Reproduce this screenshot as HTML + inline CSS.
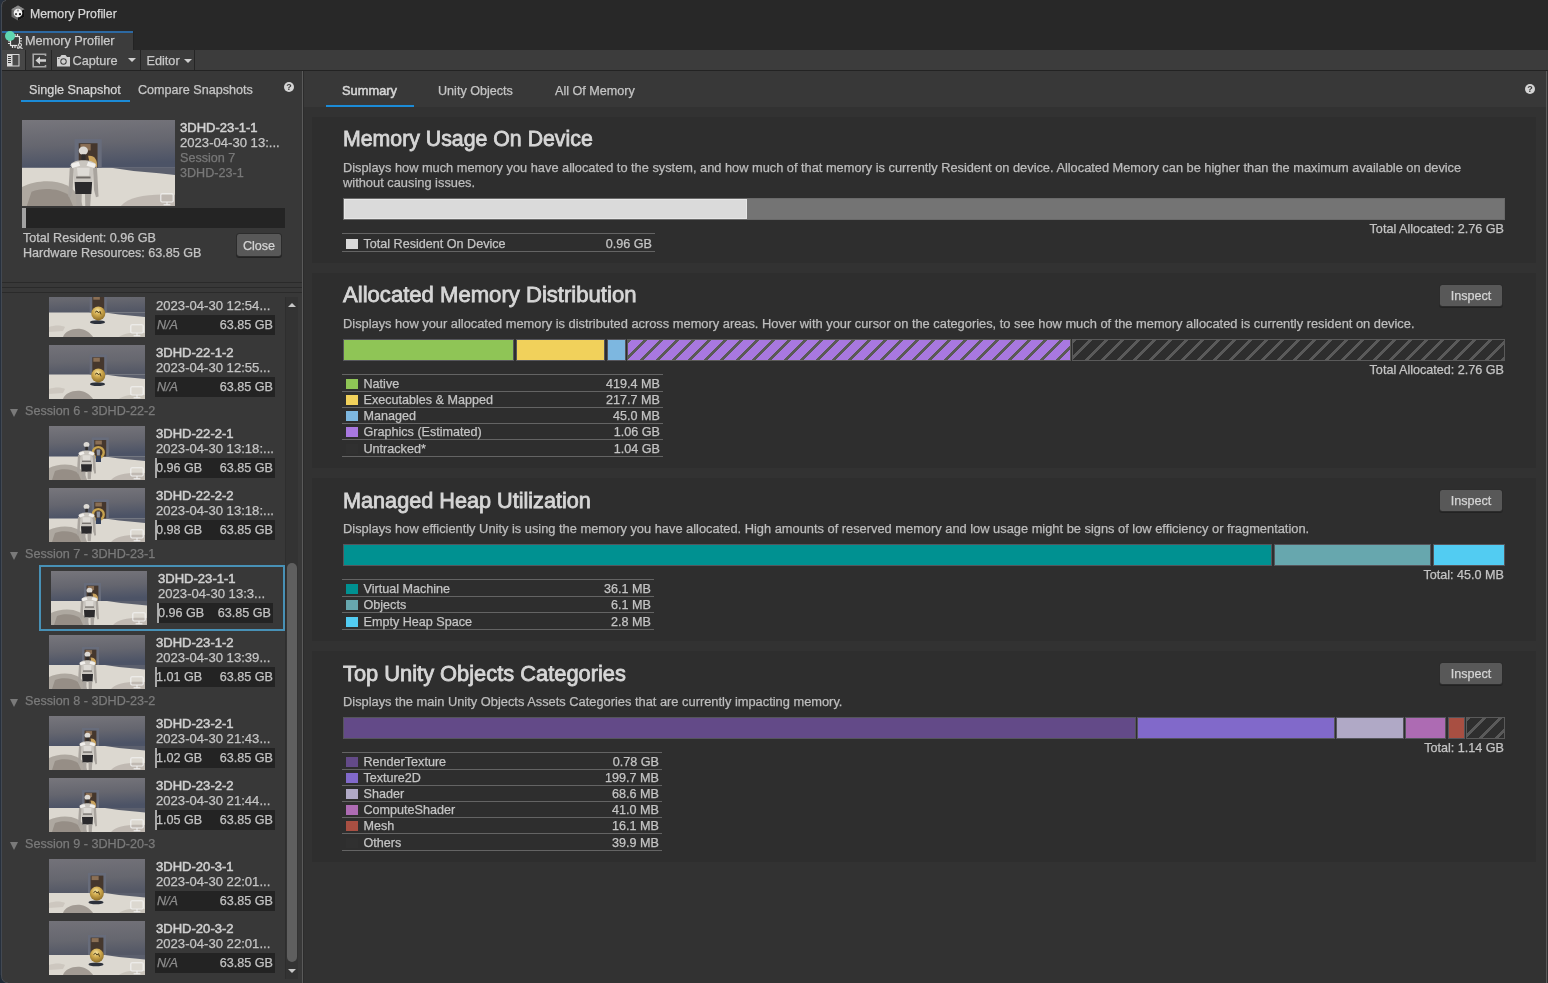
<!DOCTYPE html>
<html><head><meta charset="utf-8"><title>Memory Profiler</title><style>
*{margin:0;padding:0;box-sizing:content-box}
html,body{width:1548px;height:983px;overflow:hidden;background:#282828}
body{position:relative;font-family:"Liberation Sans",Arial,sans-serif}
.r{position:absolute}
.t{position:absolute;white-space:nowrap;filter:grayscale(1);-webkit-text-stroke-width:0.25px}
.tri{position:absolute;width:0;height:0;border-style:solid}
.help{position:absolute;filter:grayscale(1);width:10px;height:10px;border-radius:50%;background:#d4d4d4;color:#383838;font-size:9px;font-weight:700;line-height:10px;text-align:center}
.btn{position:absolute;filter:grayscale(1);background:#585858;border-radius:2.5px;color:#d4d4d4;font-size:12.6px;text-align:center;box-shadow:0 0 0 1px #2c2c2c,0 1px 0 1px #222;-webkit-text-stroke:0.25px #d4d4d4;box-sizing:border-box;padding-top:1px}
</style></head><body>
<div class="r" style="left:0;top:0;width:1548px;height:983px;background:#282828"></div>
<div class="r" style="left:0px;top:0px;width:1px;height:983px;background:#27303d;"></div>
<div class="r" style="left:1px;top:0px;width:1px;height:983px;background:#434952;"></div>
<svg class="r" style="left:11px;top:5px" width="14" height="16" viewBox="0 0 14 16">
<path d="M7 0.5 L13.5 4.2 L13.5 11.8 L7 15.5 L0.5 11.8 L0.5 4.2 Z" fill="#6a6a6a"/>
<path d="M7 0.5 L13.5 4.2 L7 7.8 L0.5 4.2 Z" fill="#8a8a8a"/>
<path d="M13.5 4.2 L13.5 11.8 L7 15.5 L7 7.8 Z" fill="#111"/>
<circle cx="7" cy="8" r="4.3" fill="#f2f2f2"/>
<circle cx="7" cy="5.6" r="1.1" fill="#9a9a9a"/><circle cx="5" cy="9.2" r="1.1" fill="#444"/><circle cx="9" cy="9.2" r="1.1" fill="#111"/>
</svg>
<div class="t" style="top:7.24px;font-size:12.3px;line-height:15px;color:#d6d6d6;left:30.00px;">Memory Profiler</div>
<div class="r" style="left:2px;top:30px;width:1546px;height:20px;background:#282828;"></div>
<div class="r" style="left:2px;top:31px;width:131px;height:2px;background:#2d69a2;"></div>
<div class="r" style="left:2px;top:33px;width:131px;height:17px;background:#3c3c3c;"></div>
<div class="r" style="left:133px;top:31px;width:1px;height:19px;background:#232323;"></div>
<svg class="r" style="left:6px;top:32px" width="18" height="18" viewBox="0 0 18 18">
<g fill="none" stroke="#e2e2e2" stroke-width="1.2">
<rect x="4.5" y="4.5" width="9" height="9"/>
<path d="M6.5 2 V4.5 M9 2 V4.5 M11.5 2 V4.5 M6.5 13.5 V16 M9 13.5 V16 M11.5 13.5 V16 M2 6.5 H4.5 M2 9 H4.5 M2 11.5 H4.5 M13.5 6.5 H16 M13.5 9 H16"/>
</g>
<circle cx="14" cy="13.8" r="2.6" fill="#3c3c3c"/>
<circle cx="14" cy="13" r="1.5" fill="none" stroke="#e2e2e2" stroke-width="1.1"/>
<path d="M11.6 17 C12 15.2 16 15.2 16.4 17" fill="none" stroke="#e2e2e2" stroke-width="1.1"/>
</svg>
<div class="r" style="left:5px;top:31px;width:10px;height:10px;border-radius:50%;background:#5fd6b1"></div>
<div class="t" style="top:32.90px;font-size:12.7px;line-height:16px;color:#c9c9c9;left:25.00px;">Memory Profiler</div>
<div class="r" style="left:2px;top:50px;width:1546px;height:20px;background:#3c3c3c;"></div>
<div class="r" style="left:2px;top:70px;width:1546px;height:1px;background:#232323;"></div>
<div class="r" style="left:2px;top:50px;width:23px;height:20px;background:#474747;"></div>
<div class="r" style="left:25px;top:50px;width:1px;height:20px;background:#252525;"></div>
<div class="r" style="left:51px;top:50px;width:1px;height:20px;background:#252525;"></div>
<div class="r" style="left:140px;top:50px;width:1px;height:20px;background:#252525;"></div>
<div class="r" style="left:194px;top:50px;width:1px;height:20px;background:#252525;"></div>
<svg class="r" style="left:7px;top:54px" width="13" height="13" viewBox="0 0 13 13">
<rect x="0" y="0" width="12.5" height="12.5" fill="#d8d8d8"/>
<rect x="5.5" y="1" width="6" height="10.5" fill="#4a4a4a"/>
<rect x="1" y="1" width="3.5" height="10.5" fill="#d8d8d8"/>
<g fill="#3c3c3c"><rect x="1" y="2" width="3" height="1"/><rect x="1" y="4" width="3" height="1"/><rect x="1" y="6" width="3" height="1"/><rect x="1" y="8" width="3" height="1"/></g>
</svg>
<svg class="r" style="left:32px;top:53px" width="15" height="15" viewBox="0 0 15 15">
<path d="M13.5 3 V1.2 H1.2 V13.8 H13.5 V12" fill="none" stroke="#a8a8a8" stroke-width="1.6"/>
<path d="M3.5 7.5 L8 3.5 V6.2 H14 V8.8 H8 V11.5 Z" fill="#d0d0d0"/>
</svg>
<svg class="r" style="left:55.5px;top:53.5px" width="15" height="13" viewBox="0 0 15 13">
<path d="M1 3 H4 L5.5 1 H9.5 L11 3 H14 V12.5 H1 Z" fill="#d0d0d0"/>
<circle cx="7.5" cy="7.5" r="3.2" fill="#3c3c3c"/><circle cx="7.5" cy="7.5" r="2.2" fill="#cfcfcf"/>
<circle cx="2.8" cy="4.5" r="0.6" fill="#3c3c3c"/>
</svg>
<div class="t" style="top:52.60px;font-size:12.7px;line-height:16px;color:#c8c8c8;left:72.50px;">Capture</div>
<div class="tri" style="left:128px;top:58px;border-width:4.5px 4px 0 4px;border-color:#d0d0d0 transparent transparent transparent"></div>
<div class="t" style="top:52.60px;font-size:12.7px;line-height:16px;color:#c8c8c8;left:146.50px;">Editor</div>
<div class="tri" style="left:183.6px;top:58.5px;border-width:4.5px 4px 0 4px;border-color:#d0d0d0 transparent transparent transparent"></div>
<div class="r" style="left:2px;top:71px;width:300px;height:912px;background:#383838;"></div>
<div class="t" style="top:81.63px;font-size:12.6px;line-height:16px;color:#d4d4d4;left:29.00px;">Single Snapshot</div>
<div class="t" style="top:81.63px;font-size:12.6px;line-height:16px;color:#c6c6c6;left:138.00px;">Compare Snapshots</div>
<div class="r" style="left:21px;top:100px;width:109px;height:2px;background:#1b8bd7;"></div>
<div class="help" style="left:284px;top:82px">?</div>
<svg class="r" style="left:22px;top:120px" width="153" height="86" viewBox="0 0 96 54" preserveAspectRatio="none"><linearGradient id="ta1" x1="0" y1="0" x2="0.15" y2="1">
<stop offset="0" stop-color="#77767c"/><stop offset="0.55" stop-color="#65666f"/><stop offset="1" stop-color="#4c5366"/></linearGradient>
<linearGradient id="tb1" x1="0" y1="0" x2="0.1" y2="1">
<stop offset="0" stop-color="#737279"/><stop offset="0.6" stop-color="#66676f"/><stop offset="1" stop-color="#545866"/></linearGradient>
<radialGradient id="tg1" cx="0.45" cy="0.3" r="0.7">
<stop offset="0" stop-color="#f5e3a0"/><stop offset="0.45" stop-color="#d0aa4e"/><stop offset="1" stop-color="#8c6c26"/></radialGradient>
<rect width="96" height="54" fill="#dcd8d0"/>
<path d="M0 42 C8 38 20 37 28 41 C34 44 37 50 38 54 L0 54 Z" fill="#a39c93" opacity="0.8"/>
<path d="M6 45 C13 42 24 43 29 47 L32 54 L3 54 Z" fill="#8d867e" opacity="0.75"/>
<path d="M62 54 C67 48 80 46 96 47 L96 54 Z" fill="#b3ada5" opacity="0.7"/>
<rect width="96" height="30" fill="url(#ta1)"/>
<path d="M56 30 L96 30 L96 34.5 L86 33.5 L70 32 Z" fill="#4c5262" opacity="0.9"/>
<rect x="33" y="12" width="17" height="18" fill="#676c7b"/>
<rect x="35.6" y="14.6" width="11.8" height="15.4" fill="#45372d"/>
<rect x="36.6" y="15.1" width="6.490000000000001" height="4" fill="#8a6f55"/>
<path d="M41.5 22.5 C45.5 22 47.5 25 47 29.5 L43 30 Z" fill="#c9a35e"/><g transform="translate(0.0 0)">
<ellipse cx="38.5" cy="19.3" rx="2.9" ry="2.6" fill="#dcd9d4"/>
<rect x="37.3" y="21.5" width="2.6" height="4" fill="#2e2c2c"/>
<path d="M30.3 28.5 C31.5 26 35 25.3 38.5 25.3 C42 25.3 45.5 26 46.7 28.5 L44.8 31 L44.2 39 L32.8 39 L32.2 31 Z" fill="#c9c5bf"/>
<path d="M30.8 27.5 L35.5 26.2 L36.5 28.8 L31.5 30.2 Z M41.5 26.2 L46.2 27.5 L45.5 30.2 L40.5 28.8 Z" fill="#f1efec"/>
<path d="M34.5 30 L42.5 30 L42 35 L35 35 Z" fill="#dedbd6"/>
<path d="M33 39 L44 39 L43.5 46.5 L33.5 46.5 Z" fill="#2b2a2c"/>
<path d="M33.8 46.5 L37.5 46.5 L37.3 54 L34.2 54 Z M39.5 46.5 L43.3 46.5 L42.8 54 L39.7 54 Z" fill="#aaa59f"/>
<path d="M30 29.5 L32.4 30.5 L31.8 44 L30.6 48.5 L29 48 L29.4 40 Z" fill="#a9a49e"/>
<path d="M47 29.5 L44.6 30.5 L45.2 44 L46.4 48.5 L48 48 L47.6 40 Z" fill="#a9a49e"/>
<path d="M34 35.5 L43 35.5 L43 36.7 L34 36.7 Z" fill="#6f6a66"/>
</g></svg>
<svg class="r" style="left:160px;top:192.5px" width="14" height="13" viewBox="0 0 14 13"><g fill="none" stroke="#f2f2f2" stroke-width="1.1" opacity="0.95"><rect x="0.8" y="0.8" width="12.4" height="8.2" rx="1.2"/><path d="M7 9 V11.6 M3.6 11.8 H10.4"/></g></svg>
<div class="t" style="top:120.28px;font-size:13.05px;line-height:16px;color:#d2d2d2;left:180.00px;-webkit-text-stroke:0.5px #d2d2d2;">3DHD-23-1-1</div>
<div class="t" style="top:135.06px;font-size:13.1px;line-height:16px;color:#c6c6c6;left:180.00px;">2023-04-30 13:...</div>
<div class="t" style="top:149.63px;font-size:12.6px;line-height:16px;color:#787878;left:180.00px;">Session 7</div>
<div class="t" style="top:164.63px;font-size:12.6px;line-height:16px;color:#787878;left:180.00px;">3DHD-23-1</div>
<div class="r" style="left:22px;top:208px;width:263px;height:20px;background:#242424;"></div>
<div class="r" style="left:22px;top:208px;width:4px;height:20px;background:#a2a2a2;"></div>
<div class="t" style="top:229.63px;font-size:12.6px;line-height:16px;color:#c4c4c4;left:23.00px;">Total Resident: 0.96 GB</div>
<div class="t" style="top:244.63px;font-size:12.6px;line-height:16px;color:#c4c4c4;left:23.00px;">Hardware Resources: 63.85 GB</div>
<div class="btn" style="left:237px;top:234px;width:44px;height:22px;line-height:22px">Close</div>
<div class="r" style="left:2px;top:282px;width:300px;height:1px;background:#2a2a2a;"></div>
<div class="r" style="left:2px;top:287px;width:300px;height:1px;background:#2a2a2a;"></div>
<div class="r" style="left:2px;top:292px;width:300px;height:1px;background:#2a2a2a;"></div>
<div class="r" style="left:2px;top:297px;width:283px;height:686px;overflow:hidden">
<svg class="r" style="left:47px;top:-14px" width="96" height="54" viewBox="0 0 96 54" preserveAspectRatio="none"><linearGradient id="ta2" x1="0" y1="0" x2="0.15" y2="1">
<stop offset="0" stop-color="#77767c"/><stop offset="0.55" stop-color="#65666f"/><stop offset="1" stop-color="#4c5366"/></linearGradient>
<linearGradient id="tb2" x1="0" y1="0" x2="0.1" y2="1">
<stop offset="0" stop-color="#737279"/><stop offset="0.6" stop-color="#66676f"/><stop offset="1" stop-color="#545866"/></linearGradient>
<radialGradient id="tg2" cx="0.45" cy="0.3" r="0.7">
<stop offset="0" stop-color="#f5e3a0"/><stop offset="0.45" stop-color="#d0aa4e"/><stop offset="1" stop-color="#8c6c26"/></radialGradient>
<rect width="96" height="54" fill="#dcd8d0"/>
<path d="M14 54 C16 48 24 45 32 46 C38 47 42 51 44 54 Z" fill="#938c84" opacity="0.8"/>
<path d="M0 44 C6 42 12 42 16 44 L14 48 L0 49 Z" fill="#c3bdb4" opacity="0.6"/>
<path d="M70 54 C74 50 84 49 96 50 L96 54 Z" fill="#bdb7ae" opacity="0.6"/>
<rect width="96" height="29.5" fill="url(#tb2)"/>
<path d="M56 29.5 L96 29.5 L96 34.0 L86 33.0 L70 31.5 Z" fill="#4c5262" opacity="0.9"/>
<rect x="40.7" y="9.6" width="17.099999999999994" height="19.9" fill="#676c7b"/>
<rect x="43.300000000000004" y="12.2" width="11.899999999999995" height="17.299999999999997" fill="#45372d"/>
<rect x="44.300000000000004" y="12.7" width="6.544999999999998" height="4" fill="#8a6f55"/>
<ellipse cx="48.5" cy="39.199999999999996" rx="7.5" ry="1.9" fill="#2c313b"/>
<circle cx="49.3" cy="30.4" r="7" fill="url(#tg2)"/>
<path d="M46.0 29.4 l2 -1.5 l1.5 2 l1.5 -1.5 l1 3" stroke="#3a2a10" stroke-width="0.9" fill="none"/></svg>
<svg class="r" style="left:128px;top:26.5px" width="14" height="13" viewBox="0 0 14 13"><g fill="none" stroke="#f2f2f2" stroke-width="1.1" opacity="0.95"><rect x="0.8" y="0.8" width="12.4" height="8.2" rx="1.2"/><path d="M7 9 V11.6 M3.6 11.8 H10.4"/></g></svg>
<div class="t" style="top:-13.72px;font-size:13.05px;line-height:16px;color:#d0d0d0;left:154.00px;-webkit-text-stroke:0.5px #d0d0d0;">3DHD-22-1-1</div>
<div class="t" style="top:1.06px;font-size:13.1px;line-height:16px;color:#c4c4c4;left:154.00px;">2023-04-30 12:54...</div>
<div class="r" style="left:153px;top:18px;width:120px;height:20px;background:#232323;"></div>
<div class="t" style="top:19.63px;font-size:12.6px;line-height:16px;color:#8c8c8c;left:155.00px;font-style:italic;">N/A</div>
<div class="t" style="top:19.63px;font-size:12.6px;line-height:16px;color:#c2c2c2;left:151px;width:120px;text-align:right;">63.85 GB</div>
<svg class="r" style="left:47px;top:48px" width="96" height="54" viewBox="0 0 96 54" preserveAspectRatio="none"><linearGradient id="ta3" x1="0" y1="0" x2="0.15" y2="1">
<stop offset="0" stop-color="#77767c"/><stop offset="0.55" stop-color="#65666f"/><stop offset="1" stop-color="#4c5366"/></linearGradient>
<linearGradient id="tb3" x1="0" y1="0" x2="0.1" y2="1">
<stop offset="0" stop-color="#737279"/><stop offset="0.6" stop-color="#66676f"/><stop offset="1" stop-color="#545866"/></linearGradient>
<radialGradient id="tg3" cx="0.45" cy="0.3" r="0.7">
<stop offset="0" stop-color="#f5e3a0"/><stop offset="0.45" stop-color="#d0aa4e"/><stop offset="1" stop-color="#8c6c26"/></radialGradient>
<rect width="96" height="54" fill="#dcd8d0"/>
<path d="M14 54 C16 48 24 45 32 46 C38 47 42 51 44 54 Z" fill="#938c84" opacity="0.8"/>
<path d="M0 44 C6 42 12 42 16 44 L14 48 L0 49 Z" fill="#c3bdb4" opacity="0.6"/>
<path d="M70 54 C74 50 84 49 96 50 L96 54 Z" fill="#bdb7ae" opacity="0.6"/>
<rect width="96" height="29.5" fill="url(#tb3)"/>
<path d="M56 29.5 L96 29.5 L96 34.0 L86 33.0 L70 31.5 Z" fill="#4c5262" opacity="0.9"/>
<rect x="40.7" y="9.6" width="17.099999999999994" height="19.9" fill="#676c7b"/>
<rect x="43.300000000000004" y="12.2" width="11.899999999999995" height="17.299999999999997" fill="#45372d"/>
<rect x="44.300000000000004" y="12.7" width="6.544999999999998" height="4" fill="#8a6f55"/>
<ellipse cx="48.5" cy="39.199999999999996" rx="7.5" ry="1.9" fill="#2c313b"/>
<circle cx="49.3" cy="30.4" r="7" fill="url(#tg3)"/>
<path d="M46.0 29.4 l2 -1.5 l1.5 2 l1.5 -1.5 l1 3" stroke="#3a2a10" stroke-width="0.9" fill="none"/></svg>
<svg class="r" style="left:128px;top:88.5px" width="14" height="13" viewBox="0 0 14 13"><g fill="none" stroke="#f2f2f2" stroke-width="1.1" opacity="0.95"><rect x="0.8" y="0.8" width="12.4" height="8.2" rx="1.2"/><path d="M7 9 V11.6 M3.6 11.8 H10.4"/></g></svg>
<div class="t" style="top:48.28px;font-size:13.05px;line-height:16px;color:#d0d0d0;left:154.00px;-webkit-text-stroke:0.5px #d0d0d0;">3DHD-22-1-2</div>
<div class="t" style="top:63.06px;font-size:13.1px;line-height:16px;color:#c4c4c4;left:154.00px;">2023-04-30 12:55...</div>
<div class="r" style="left:153px;top:80px;width:120px;height:20px;background:#232323;"></div>
<div class="t" style="top:81.63px;font-size:12.6px;line-height:16px;color:#8c8c8c;left:155.00px;font-style:italic;">N/A</div>
<div class="t" style="top:81.63px;font-size:12.6px;line-height:16px;color:#c2c2c2;left:151px;width:120px;text-align:right;">63.85 GB</div>
<div class="tri" style="left:8px;top:112px;border-width:8px 4.5px 0 4.5px;border-color:#7a7a7a transparent transparent transparent"></div>
<div class="t" style="top:105.63px;font-size:12.6px;line-height:16px;color:#7a7a7a;left:23.00px;">Session 6 - 3DHD-22-2</div>
<svg class="r" style="left:47px;top:129px" width="96" height="54" viewBox="0 0 96 54" preserveAspectRatio="none"><linearGradient id="ta4" x1="0" y1="0" x2="0.15" y2="1">
<stop offset="0" stop-color="#77767c"/><stop offset="0.55" stop-color="#65666f"/><stop offset="1" stop-color="#4c5366"/></linearGradient>
<linearGradient id="tb4" x1="0" y1="0" x2="0.1" y2="1">
<stop offset="0" stop-color="#737279"/><stop offset="0.6" stop-color="#66676f"/><stop offset="1" stop-color="#545866"/></linearGradient>
<radialGradient id="tg4" cx="0.45" cy="0.3" r="0.7">
<stop offset="0" stop-color="#f5e3a0"/><stop offset="0.45" stop-color="#d0aa4e"/><stop offset="1" stop-color="#8c6c26"/></radialGradient>
<rect width="96" height="54" fill="#dcd8d0"/>
<path d="M0 42 C8 38 20 37 28 41 C34 44 37 50 38 54 L0 54 Z" fill="#a39c93" opacity="0.8"/>
<path d="M6 45 C13 42 24 43 29 47 L32 54 L3 54 Z" fill="#8d867e" opacity="0.75"/>
<path d="M62 54 C67 48 80 46 96 47 L96 54 Z" fill="#b3ada5" opacity="0.7"/>
<rect width="96" height="30.5" fill="url(#ta4)"/>
<path d="M56 30.5 L96 30.5 L96 35.0 L86 34.0 L70 32.5 Z" fill="#4c5262" opacity="0.9"/>
<rect x="42.7" y="11.4" width="17.099999999999994" height="19.1" fill="#676c7b"/>
<rect x="45.300000000000004" y="14.0" width="11.899999999999995" height="16.5" fill="#45372d"/>
<rect x="46.300000000000004" y="14.5" width="6.544999999999998" height="4" fill="#8a6f55"/>
<circle cx="49.3" cy="26.5" r="5.4" fill="none" stroke="#c6a24e" stroke-width="2.4"/>
<path d="M47.5 23.5 L51.2 23.5 L50.8 29.5 L47.9 29.5 Z" fill="#8a8f9c"/><rect x="46.8" y="30" width="5.2" height="6" fill="#34405a"/><g transform="translate(-1.0 -0.8000000000000007)">
<ellipse cx="38.5" cy="19.3" rx="2.9" ry="2.6" fill="#dcd9d4"/>
<rect x="37.3" y="21.5" width="2.6" height="4" fill="#2e2c2c"/>
<path d="M30.3 28.5 C31.5 26 35 25.3 38.5 25.3 C42 25.3 45.5 26 46.7 28.5 L44.8 31 L44.2 39 L32.8 39 L32.2 31 Z" fill="#c9c5bf"/>
<path d="M30.8 27.5 L35.5 26.2 L36.5 28.8 L31.5 30.2 Z M41.5 26.2 L46.2 27.5 L45.5 30.2 L40.5 28.8 Z" fill="#f1efec"/>
<path d="M34.5 30 L42.5 30 L42 35 L35 35 Z" fill="#dedbd6"/>
<path d="M33 39 L44 39 L43.5 46.5 L33.5 46.5 Z" fill="#2b2a2c"/>
<path d="M33.8 46.5 L37.5 46.5 L37.3 54 L34.2 54 Z M39.5 46.5 L43.3 46.5 L42.8 54 L39.7 54 Z" fill="#aaa59f"/>
<path d="M30 29.5 L32.4 30.5 L31.8 44 L30.6 48.5 L29 48 L29.4 40 Z" fill="#a9a49e"/>
<path d="M47 29.5 L44.6 30.5 L45.2 44 L46.4 48.5 L48 48 L47.6 40 Z" fill="#a9a49e"/>
<path d="M34 35.5 L43 35.5 L43 36.7 L34 36.7 Z" fill="#6f6a66"/>
</g></svg>
<svg class="r" style="left:128px;top:169.5px" width="14" height="13" viewBox="0 0 14 13"><g fill="none" stroke="#f2f2f2" stroke-width="1.1" opacity="0.95"><rect x="0.8" y="0.8" width="12.4" height="8.2" rx="1.2"/><path d="M7 9 V11.6 M3.6 11.8 H10.4"/></g></svg>
<div class="t" style="top:129.28px;font-size:13.05px;line-height:16px;color:#d0d0d0;left:154.00px;-webkit-text-stroke:0.5px #d0d0d0;">3DHD-22-2-1</div>
<div class="t" style="top:144.06px;font-size:13.1px;line-height:16px;color:#c4c4c4;left:154.00px;">2023-04-30 13:18:...</div>
<div class="r" style="left:153px;top:161px;width:120px;height:20px;background:#232323;"></div>
<div class="r" style="left:153px;top:161px;width:2px;height:20px;background:#a9a9a9;"></div>
<div class="t" style="top:162.63px;font-size:12.6px;line-height:16px;color:#c2c2c2;left:154.00px;">0.96 GB</div>
<div class="t" style="top:162.63px;font-size:12.6px;line-height:16px;color:#c2c2c2;left:151px;width:120px;text-align:right;">63.85 GB</div>
<svg class="r" style="left:47px;top:191px" width="96" height="54" viewBox="0 0 96 54" preserveAspectRatio="none"><linearGradient id="ta5" x1="0" y1="0" x2="0.15" y2="1">
<stop offset="0" stop-color="#77767c"/><stop offset="0.55" stop-color="#65666f"/><stop offset="1" stop-color="#4c5366"/></linearGradient>
<linearGradient id="tb5" x1="0" y1="0" x2="0.1" y2="1">
<stop offset="0" stop-color="#737279"/><stop offset="0.6" stop-color="#66676f"/><stop offset="1" stop-color="#545866"/></linearGradient>
<radialGradient id="tg5" cx="0.45" cy="0.3" r="0.7">
<stop offset="0" stop-color="#f5e3a0"/><stop offset="0.45" stop-color="#d0aa4e"/><stop offset="1" stop-color="#8c6c26"/></radialGradient>
<rect width="96" height="54" fill="#dcd8d0"/>
<path d="M0 42 C8 38 20 37 28 41 C34 44 37 50 38 54 L0 54 Z" fill="#a39c93" opacity="0.8"/>
<path d="M6 45 C13 42 24 43 29 47 L32 54 L3 54 Z" fill="#8d867e" opacity="0.75"/>
<path d="M62 54 C67 48 80 46 96 47 L96 54 Z" fill="#b3ada5" opacity="0.7"/>
<rect width="96" height="30.5" fill="url(#ta5)"/>
<path d="M56 30.5 L96 30.5 L96 35.0 L86 34.0 L70 32.5 Z" fill="#4c5262" opacity="0.9"/>
<rect x="42.7" y="11.4" width="17.099999999999994" height="19.1" fill="#676c7b"/>
<rect x="45.300000000000004" y="14.0" width="11.899999999999995" height="16.5" fill="#45372d"/>
<rect x="46.300000000000004" y="14.5" width="6.544999999999998" height="4" fill="#8a6f55"/>
<circle cx="49.3" cy="26.5" r="5.4" fill="none" stroke="#c6a24e" stroke-width="2.4"/>
<path d="M47.5 23.5 L51.2 23.5 L50.8 29.5 L47.9 29.5 Z" fill="#8a8f9c"/><rect x="46.8" y="30" width="5.2" height="6" fill="#34405a"/><g transform="translate(-1.0 -0.8000000000000007)">
<ellipse cx="38.5" cy="19.3" rx="2.9" ry="2.6" fill="#dcd9d4"/>
<rect x="37.3" y="21.5" width="2.6" height="4" fill="#2e2c2c"/>
<path d="M30.3 28.5 C31.5 26 35 25.3 38.5 25.3 C42 25.3 45.5 26 46.7 28.5 L44.8 31 L44.2 39 L32.8 39 L32.2 31 Z" fill="#c9c5bf"/>
<path d="M30.8 27.5 L35.5 26.2 L36.5 28.8 L31.5 30.2 Z M41.5 26.2 L46.2 27.5 L45.5 30.2 L40.5 28.8 Z" fill="#f1efec"/>
<path d="M34.5 30 L42.5 30 L42 35 L35 35 Z" fill="#dedbd6"/>
<path d="M33 39 L44 39 L43.5 46.5 L33.5 46.5 Z" fill="#2b2a2c"/>
<path d="M33.8 46.5 L37.5 46.5 L37.3 54 L34.2 54 Z M39.5 46.5 L43.3 46.5 L42.8 54 L39.7 54 Z" fill="#aaa59f"/>
<path d="M30 29.5 L32.4 30.5 L31.8 44 L30.6 48.5 L29 48 L29.4 40 Z" fill="#a9a49e"/>
<path d="M47 29.5 L44.6 30.5 L45.2 44 L46.4 48.5 L48 48 L47.6 40 Z" fill="#a9a49e"/>
<path d="M34 35.5 L43 35.5 L43 36.7 L34 36.7 Z" fill="#6f6a66"/>
</g></svg>
<svg class="r" style="left:128px;top:231.5px" width="14" height="13" viewBox="0 0 14 13"><g fill="none" stroke="#f2f2f2" stroke-width="1.1" opacity="0.95"><rect x="0.8" y="0.8" width="12.4" height="8.2" rx="1.2"/><path d="M7 9 V11.6 M3.6 11.8 H10.4"/></g></svg>
<div class="t" style="top:191.28px;font-size:13.05px;line-height:16px;color:#d0d0d0;left:154.00px;-webkit-text-stroke:0.5px #d0d0d0;">3DHD-22-2-2</div>
<div class="t" style="top:206.06px;font-size:13.1px;line-height:16px;color:#c4c4c4;left:154.00px;">2023-04-30 13:18:...</div>
<div class="r" style="left:153px;top:223px;width:120px;height:20px;background:#232323;"></div>
<div class="r" style="left:153px;top:223px;width:2px;height:20px;background:#a9a9a9;"></div>
<div class="t" style="top:224.63px;font-size:12.6px;line-height:16px;color:#c2c2c2;left:154.00px;">0.98 GB</div>
<div class="t" style="top:224.63px;font-size:12.6px;line-height:16px;color:#c2c2c2;left:151px;width:120px;text-align:right;">63.85 GB</div>
<div class="tri" style="left:8px;top:255px;border-width:8px 4.5px 0 4.5px;border-color:#7a7a7a transparent transparent transparent"></div>
<div class="t" style="top:248.63px;font-size:12.6px;line-height:16px;color:#7a7a7a;left:23.00px;">Session 7 - 3DHD-23-1</div>
<div class="r" style="left:37px;top:268px;width:242px;height:62px;border:2px solid #4891b6"></div>
<svg class="r" style="left:49px;top:274px" width="96" height="54" viewBox="0 0 96 54" preserveAspectRatio="none"><linearGradient id="ta6" x1="0" y1="0" x2="0.15" y2="1">
<stop offset="0" stop-color="#77767c"/><stop offset="0.55" stop-color="#65666f"/><stop offset="1" stop-color="#4c5366"/></linearGradient>
<linearGradient id="tb6" x1="0" y1="0" x2="0.1" y2="1">
<stop offset="0" stop-color="#737279"/><stop offset="0.6" stop-color="#66676f"/><stop offset="1" stop-color="#545866"/></linearGradient>
<radialGradient id="tg6" cx="0.45" cy="0.3" r="0.7">
<stop offset="0" stop-color="#f5e3a0"/><stop offset="0.45" stop-color="#d0aa4e"/><stop offset="1" stop-color="#8c6c26"/></radialGradient>
<rect width="96" height="54" fill="#dcd8d0"/>
<path d="M0 42 C8 38 20 37 28 41 C34 44 37 50 38 54 L0 54 Z" fill="#a39c93" opacity="0.8"/>
<path d="M6 45 C13 42 24 43 29 47 L32 54 L3 54 Z" fill="#8d867e" opacity="0.75"/>
<path d="M62 54 C67 48 80 46 96 47 L96 54 Z" fill="#b3ada5" opacity="0.7"/>
<rect width="96" height="30" fill="url(#ta6)"/>
<path d="M56 30 L96 30 L96 34.5 L86 33.5 L70 32 Z" fill="#4c5262" opacity="0.9"/>
<rect x="33" y="12" width="17" height="18" fill="#676c7b"/>
<rect x="35.6" y="14.6" width="11.8" height="15.4" fill="#45372d"/>
<rect x="36.6" y="15.1" width="6.490000000000001" height="4" fill="#8a6f55"/>
<path d="M41.5 22.5 C45.5 22 47.5 25 47 29.5 L43 30 Z" fill="#c9a35e"/><g transform="translate(0.0 0)">
<ellipse cx="38.5" cy="19.3" rx="2.9" ry="2.6" fill="#dcd9d4"/>
<rect x="37.3" y="21.5" width="2.6" height="4" fill="#2e2c2c"/>
<path d="M30.3 28.5 C31.5 26 35 25.3 38.5 25.3 C42 25.3 45.5 26 46.7 28.5 L44.8 31 L44.2 39 L32.8 39 L32.2 31 Z" fill="#c9c5bf"/>
<path d="M30.8 27.5 L35.5 26.2 L36.5 28.8 L31.5 30.2 Z M41.5 26.2 L46.2 27.5 L45.5 30.2 L40.5 28.8 Z" fill="#f1efec"/>
<path d="M34.5 30 L42.5 30 L42 35 L35 35 Z" fill="#dedbd6"/>
<path d="M33 39 L44 39 L43.5 46.5 L33.5 46.5 Z" fill="#2b2a2c"/>
<path d="M33.8 46.5 L37.5 46.5 L37.3 54 L34.2 54 Z M39.5 46.5 L43.3 46.5 L42.8 54 L39.7 54 Z" fill="#aaa59f"/>
<path d="M30 29.5 L32.4 30.5 L31.8 44 L30.6 48.5 L29 48 L29.4 40 Z" fill="#a9a49e"/>
<path d="M47 29.5 L44.6 30.5 L45.2 44 L46.4 48.5 L48 48 L47.6 40 Z" fill="#a9a49e"/>
<path d="M34 35.5 L43 35.5 L43 36.7 L34 36.7 Z" fill="#6f6a66"/>
</g></svg>
<svg class="r" style="left:130px;top:314.5px" width="14" height="13" viewBox="0 0 14 13"><g fill="none" stroke="#f2f2f2" stroke-width="1.1" opacity="0.95"><rect x="0.8" y="0.8" width="12.4" height="8.2" rx="1.2"/><path d="M7 9 V11.6 M3.6 11.8 H10.4"/></g></svg>
<div class="t" style="top:274.28px;font-size:13.05px;line-height:16px;color:#d0d0d0;left:156.00px;-webkit-text-stroke:0.5px #d0d0d0;">3DHD-23-1-1</div>
<div class="t" style="top:289.06px;font-size:13.1px;line-height:16px;color:#c4c4c4;left:156.00px;">2023-04-30 13:3...</div>
<div class="r" style="left:155px;top:306px;width:116px;height:20px;background:#232323;"></div>
<div class="r" style="left:155px;top:306px;width:2px;height:20px;background:#a9a9a9;"></div>
<div class="t" style="top:307.63px;font-size:12.6px;line-height:16px;color:#c2c2c2;left:156.00px;">0.96 GB</div>
<div class="t" style="top:307.63px;font-size:12.6px;line-height:16px;color:#c2c2c2;left:149px;width:120px;text-align:right;">63.85 GB</div>
<svg class="r" style="left:47px;top:338px" width="96" height="54" viewBox="0 0 96 54" preserveAspectRatio="none"><linearGradient id="ta7" x1="0" y1="0" x2="0.15" y2="1">
<stop offset="0" stop-color="#77767c"/><stop offset="0.55" stop-color="#65666f"/><stop offset="1" stop-color="#4c5366"/></linearGradient>
<linearGradient id="tb7" x1="0" y1="0" x2="0.1" y2="1">
<stop offset="0" stop-color="#737279"/><stop offset="0.6" stop-color="#66676f"/><stop offset="1" stop-color="#545866"/></linearGradient>
<radialGradient id="tg7" cx="0.45" cy="0.3" r="0.7">
<stop offset="0" stop-color="#f5e3a0"/><stop offset="0.45" stop-color="#d0aa4e"/><stop offset="1" stop-color="#8c6c26"/></radialGradient>
<rect width="96" height="54" fill="#dcd8d0"/>
<path d="M0 42 C8 38 20 37 28 41 C34 44 37 50 38 54 L0 54 Z" fill="#a39c93" opacity="0.8"/>
<path d="M6 45 C13 42 24 43 29 47 L32 54 L3 54 Z" fill="#8d867e" opacity="0.75"/>
<path d="M62 54 C67 48 80 46 96 47 L96 54 Z" fill="#b3ada5" opacity="0.7"/>
<rect width="96" height="30" fill="url(#ta7)"/>
<path d="M56 30 L96 30 L96 34.5 L86 33.5 L70 32 Z" fill="#4c5262" opacity="0.9"/>
<rect x="33" y="12" width="17" height="18" fill="#676c7b"/>
<rect x="35.6" y="14.6" width="11.8" height="15.4" fill="#45372d"/>
<rect x="36.6" y="15.1" width="6.490000000000001" height="4" fill="#8a6f55"/>
<path d="M41.5 22.5 C45.5 22 47.5 25 47 29.5 L43 30 Z" fill="#c9a35e"/><g transform="translate(0.0 0)">
<ellipse cx="38.5" cy="19.3" rx="2.9" ry="2.6" fill="#dcd9d4"/>
<rect x="37.3" y="21.5" width="2.6" height="4" fill="#2e2c2c"/>
<path d="M30.3 28.5 C31.5 26 35 25.3 38.5 25.3 C42 25.3 45.5 26 46.7 28.5 L44.8 31 L44.2 39 L32.8 39 L32.2 31 Z" fill="#c9c5bf"/>
<path d="M30.8 27.5 L35.5 26.2 L36.5 28.8 L31.5 30.2 Z M41.5 26.2 L46.2 27.5 L45.5 30.2 L40.5 28.8 Z" fill="#f1efec"/>
<path d="M34.5 30 L42.5 30 L42 35 L35 35 Z" fill="#dedbd6"/>
<path d="M33 39 L44 39 L43.5 46.5 L33.5 46.5 Z" fill="#2b2a2c"/>
<path d="M33.8 46.5 L37.5 46.5 L37.3 54 L34.2 54 Z M39.5 46.5 L43.3 46.5 L42.8 54 L39.7 54 Z" fill="#aaa59f"/>
<path d="M30 29.5 L32.4 30.5 L31.8 44 L30.6 48.5 L29 48 L29.4 40 Z" fill="#a9a49e"/>
<path d="M47 29.5 L44.6 30.5 L45.2 44 L46.4 48.5 L48 48 L47.6 40 Z" fill="#a9a49e"/>
<path d="M34 35.5 L43 35.5 L43 36.7 L34 36.7 Z" fill="#6f6a66"/>
</g></svg>
<svg class="r" style="left:128px;top:378.5px" width="14" height="13" viewBox="0 0 14 13"><g fill="none" stroke="#f2f2f2" stroke-width="1.1" opacity="0.95"><rect x="0.8" y="0.8" width="12.4" height="8.2" rx="1.2"/><path d="M7 9 V11.6 M3.6 11.8 H10.4"/></g></svg>
<div class="t" style="top:338.28px;font-size:13.05px;line-height:16px;color:#d0d0d0;left:154.00px;-webkit-text-stroke:0.5px #d0d0d0;">3DHD-23-1-2</div>
<div class="t" style="top:353.06px;font-size:13.1px;line-height:16px;color:#c4c4c4;left:154.00px;">2023-04-30 13:39...</div>
<div class="r" style="left:153px;top:370px;width:120px;height:20px;background:#232323;"></div>
<div class="r" style="left:153px;top:370px;width:2px;height:20px;background:#a9a9a9;"></div>
<div class="t" style="top:371.63px;font-size:12.6px;line-height:16px;color:#c2c2c2;left:154.00px;">1.01 GB</div>
<div class="t" style="top:371.63px;font-size:12.6px;line-height:16px;color:#c2c2c2;left:151px;width:120px;text-align:right;">63.85 GB</div>
<div class="tri" style="left:8px;top:402px;border-width:8px 4.5px 0 4.5px;border-color:#7a7a7a transparent transparent transparent"></div>
<div class="t" style="top:395.63px;font-size:12.6px;line-height:16px;color:#7a7a7a;left:23.00px;">Session 8 - 3DHD-23-2</div>
<svg class="r" style="left:47px;top:419px" width="96" height="54" viewBox="0 0 96 54" preserveAspectRatio="none"><linearGradient id="ta8" x1="0" y1="0" x2="0.15" y2="1">
<stop offset="0" stop-color="#77767c"/><stop offset="0.55" stop-color="#65666f"/><stop offset="1" stop-color="#4c5366"/></linearGradient>
<linearGradient id="tb8" x1="0" y1="0" x2="0.1" y2="1">
<stop offset="0" stop-color="#737279"/><stop offset="0.6" stop-color="#66676f"/><stop offset="1" stop-color="#545866"/></linearGradient>
<radialGradient id="tg8" cx="0.45" cy="0.3" r="0.7">
<stop offset="0" stop-color="#f5e3a0"/><stop offset="0.45" stop-color="#d0aa4e"/><stop offset="1" stop-color="#8c6c26"/></radialGradient>
<rect width="96" height="54" fill="#dcd8d0"/>
<path d="M0 42 C8 38 20 37 28 41 C34 44 37 50 38 54 L0 54 Z" fill="#a39c93" opacity="0.8"/>
<path d="M6 45 C13 42 24 43 29 47 L32 54 L3 54 Z" fill="#8d867e" opacity="0.75"/>
<path d="M62 54 C67 48 80 46 96 47 L96 54 Z" fill="#b3ada5" opacity="0.7"/>
<rect width="96" height="30" fill="url(#ta8)"/>
<path d="M56 30 L96 30 L96 34.5 L86 33.5 L70 32 Z" fill="#4c5262" opacity="0.9"/>
<rect x="33" y="12" width="17" height="18" fill="#676c7b"/>
<rect x="35.6" y="14.6" width="11.8" height="15.4" fill="#45372d"/>
<rect x="36.6" y="15.1" width="6.490000000000001" height="4" fill="#8a6f55"/>
<path d="M41.5 22.5 C45.5 22 47.5 25 47 29.5 L43 30 Z" fill="#c9a35e"/><g transform="translate(0.0 0)">
<ellipse cx="38.5" cy="19.3" rx="2.9" ry="2.6" fill="#dcd9d4"/>
<rect x="37.3" y="21.5" width="2.6" height="4" fill="#2e2c2c"/>
<path d="M30.3 28.5 C31.5 26 35 25.3 38.5 25.3 C42 25.3 45.5 26 46.7 28.5 L44.8 31 L44.2 39 L32.8 39 L32.2 31 Z" fill="#c9c5bf"/>
<path d="M30.8 27.5 L35.5 26.2 L36.5 28.8 L31.5 30.2 Z M41.5 26.2 L46.2 27.5 L45.5 30.2 L40.5 28.8 Z" fill="#f1efec"/>
<path d="M34.5 30 L42.5 30 L42 35 L35 35 Z" fill="#dedbd6"/>
<path d="M33 39 L44 39 L43.5 46.5 L33.5 46.5 Z" fill="#2b2a2c"/>
<path d="M33.8 46.5 L37.5 46.5 L37.3 54 L34.2 54 Z M39.5 46.5 L43.3 46.5 L42.8 54 L39.7 54 Z" fill="#aaa59f"/>
<path d="M30 29.5 L32.4 30.5 L31.8 44 L30.6 48.5 L29 48 L29.4 40 Z" fill="#a9a49e"/>
<path d="M47 29.5 L44.6 30.5 L45.2 44 L46.4 48.5 L48 48 L47.6 40 Z" fill="#a9a49e"/>
<path d="M34 35.5 L43 35.5 L43 36.7 L34 36.7 Z" fill="#6f6a66"/>
</g></svg>
<svg class="r" style="left:128px;top:459.5px" width="14" height="13" viewBox="0 0 14 13"><g fill="none" stroke="#f2f2f2" stroke-width="1.1" opacity="0.95"><rect x="0.8" y="0.8" width="12.4" height="8.2" rx="1.2"/><path d="M7 9 V11.6 M3.6 11.8 H10.4"/></g></svg>
<div class="t" style="top:419.28px;font-size:13.05px;line-height:16px;color:#d0d0d0;left:154.00px;-webkit-text-stroke:0.5px #d0d0d0;">3DHD-23-2-1</div>
<div class="t" style="top:434.06px;font-size:13.1px;line-height:16px;color:#c4c4c4;left:154.00px;">2023-04-30 21:43...</div>
<div class="r" style="left:153px;top:451px;width:120px;height:20px;background:#232323;"></div>
<div class="r" style="left:153px;top:451px;width:2px;height:20px;background:#a9a9a9;"></div>
<div class="t" style="top:452.63px;font-size:12.6px;line-height:16px;color:#c2c2c2;left:154.00px;">1.02 GB</div>
<div class="t" style="top:452.63px;font-size:12.6px;line-height:16px;color:#c2c2c2;left:151px;width:120px;text-align:right;">63.85 GB</div>
<svg class="r" style="left:47px;top:481px" width="96" height="54" viewBox="0 0 96 54" preserveAspectRatio="none"><linearGradient id="ta9" x1="0" y1="0" x2="0.15" y2="1">
<stop offset="0" stop-color="#77767c"/><stop offset="0.55" stop-color="#65666f"/><stop offset="1" stop-color="#4c5366"/></linearGradient>
<linearGradient id="tb9" x1="0" y1="0" x2="0.1" y2="1">
<stop offset="0" stop-color="#737279"/><stop offset="0.6" stop-color="#66676f"/><stop offset="1" stop-color="#545866"/></linearGradient>
<radialGradient id="tg9" cx="0.45" cy="0.3" r="0.7">
<stop offset="0" stop-color="#f5e3a0"/><stop offset="0.45" stop-color="#d0aa4e"/><stop offset="1" stop-color="#8c6c26"/></radialGradient>
<rect width="96" height="54" fill="#dcd8d0"/>
<path d="M0 42 C8 38 20 37 28 41 C34 44 37 50 38 54 L0 54 Z" fill="#a39c93" opacity="0.8"/>
<path d="M6 45 C13 42 24 43 29 47 L32 54 L3 54 Z" fill="#8d867e" opacity="0.75"/>
<path d="M62 54 C67 48 80 46 96 47 L96 54 Z" fill="#b3ada5" opacity="0.7"/>
<rect width="96" height="30" fill="url(#ta9)"/>
<path d="M56 30 L96 30 L96 34.5 L86 33.5 L70 32 Z" fill="#4c5262" opacity="0.9"/>
<rect x="33" y="12" width="17" height="18" fill="#676c7b"/>
<rect x="35.6" y="14.6" width="11.8" height="15.4" fill="#45372d"/>
<rect x="36.6" y="15.1" width="6.490000000000001" height="4" fill="#8a6f55"/>
<path d="M41.5 22.5 C45.5 22 47.5 25 47 29.5 L43 30 Z" fill="#c9a35e"/><g transform="translate(0.0 0)">
<ellipse cx="38.5" cy="19.3" rx="2.9" ry="2.6" fill="#dcd9d4"/>
<rect x="37.3" y="21.5" width="2.6" height="4" fill="#2e2c2c"/>
<path d="M30.3 28.5 C31.5 26 35 25.3 38.5 25.3 C42 25.3 45.5 26 46.7 28.5 L44.8 31 L44.2 39 L32.8 39 L32.2 31 Z" fill="#c9c5bf"/>
<path d="M30.8 27.5 L35.5 26.2 L36.5 28.8 L31.5 30.2 Z M41.5 26.2 L46.2 27.5 L45.5 30.2 L40.5 28.8 Z" fill="#f1efec"/>
<path d="M34.5 30 L42.5 30 L42 35 L35 35 Z" fill="#dedbd6"/>
<path d="M33 39 L44 39 L43.5 46.5 L33.5 46.5 Z" fill="#2b2a2c"/>
<path d="M33.8 46.5 L37.5 46.5 L37.3 54 L34.2 54 Z M39.5 46.5 L43.3 46.5 L42.8 54 L39.7 54 Z" fill="#aaa59f"/>
<path d="M30 29.5 L32.4 30.5 L31.8 44 L30.6 48.5 L29 48 L29.4 40 Z" fill="#a9a49e"/>
<path d="M47 29.5 L44.6 30.5 L45.2 44 L46.4 48.5 L48 48 L47.6 40 Z" fill="#a9a49e"/>
<path d="M34 35.5 L43 35.5 L43 36.7 L34 36.7 Z" fill="#6f6a66"/>
</g></svg>
<svg class="r" style="left:128px;top:521.5px" width="14" height="13" viewBox="0 0 14 13"><g fill="none" stroke="#f2f2f2" stroke-width="1.1" opacity="0.95"><rect x="0.8" y="0.8" width="12.4" height="8.2" rx="1.2"/><path d="M7 9 V11.6 M3.6 11.8 H10.4"/></g></svg>
<div class="t" style="top:481.28px;font-size:13.05px;line-height:16px;color:#d0d0d0;left:154.00px;-webkit-text-stroke:0.5px #d0d0d0;">3DHD-23-2-2</div>
<div class="t" style="top:496.06px;font-size:13.1px;line-height:16px;color:#c4c4c4;left:154.00px;">2023-04-30 21:44...</div>
<div class="r" style="left:153px;top:513px;width:120px;height:20px;background:#232323;"></div>
<div class="r" style="left:153px;top:513px;width:2px;height:20px;background:#a9a9a9;"></div>
<div class="t" style="top:514.63px;font-size:12.6px;line-height:16px;color:#c2c2c2;left:154.00px;">1.05 GB</div>
<div class="t" style="top:514.63px;font-size:12.6px;line-height:16px;color:#c2c2c2;left:151px;width:120px;text-align:right;">63.85 GB</div>
<div class="tri" style="left:8px;top:545px;border-width:8px 4.5px 0 4.5px;border-color:#7a7a7a transparent transparent transparent"></div>
<div class="t" style="top:538.63px;font-size:12.6px;line-height:16px;color:#7a7a7a;left:23.00px;">Session 9 - 3DHD-20-3</div>
<svg class="r" style="left:47px;top:562px" width="96" height="54" viewBox="0 0 96 54" preserveAspectRatio="none"><linearGradient id="ta10" x1="0" y1="0" x2="0.15" y2="1">
<stop offset="0" stop-color="#77767c"/><stop offset="0.55" stop-color="#65666f"/><stop offset="1" stop-color="#4c5366"/></linearGradient>
<linearGradient id="tb10" x1="0" y1="0" x2="0.1" y2="1">
<stop offset="0" stop-color="#737279"/><stop offset="0.6" stop-color="#66676f"/><stop offset="1" stop-color="#545866"/></linearGradient>
<radialGradient id="tg10" cx="0.45" cy="0.3" r="0.7">
<stop offset="0" stop-color="#f5e3a0"/><stop offset="0.45" stop-color="#d0aa4e"/><stop offset="1" stop-color="#8c6c26"/></radialGradient>
<rect width="96" height="54" fill="#dcd8d0"/>
<path d="M14 54 C16 48 24 45 32 46 C38 47 42 51 44 54 Z" fill="#938c84" opacity="0.8"/>
<path d="M0 44 C6 42 12 42 16 44 L14 48 L0 49 Z" fill="#c3bdb4" opacity="0.6"/>
<path d="M70 54 C74 50 84 49 96 50 L96 54 Z" fill="#bdb7ae" opacity="0.6"/>
<rect width="96" height="34" fill="url(#tb10)"/>
<path d="M56 34 L96 34 L96 38.5 L86 37.5 L70 36 Z" fill="#4c5262" opacity="0.9"/>
<rect x="39" y="14" width="18" height="20" fill="#676c7b"/>
<rect x="41.6" y="16.6" width="12.8" height="17.4" fill="#45372d"/>
<rect x="42.6" y="17.1" width="7.040000000000001" height="4" fill="#8a6f55"/>
<ellipse cx="47.0" cy="43.4" rx="7.5" ry="1.9" fill="#2c313b"/>
<circle cx="47.8" cy="34.6" r="7" fill="url(#tg10)"/>
<path d="M44.5 33.6 l2 -1.5 l1.5 2 l1.5 -1.5 l1 3" stroke="#3a2a10" stroke-width="0.9" fill="none"/></svg>
<svg class="r" style="left:128px;top:602.5px" width="14" height="13" viewBox="0 0 14 13"><g fill="none" stroke="#f2f2f2" stroke-width="1.1" opacity="0.95"><rect x="0.8" y="0.8" width="12.4" height="8.2" rx="1.2"/><path d="M7 9 V11.6 M3.6 11.8 H10.4"/></g></svg>
<div class="t" style="top:562.28px;font-size:13.05px;line-height:16px;color:#d0d0d0;left:154.00px;-webkit-text-stroke:0.5px #d0d0d0;">3DHD-20-3-1</div>
<div class="t" style="top:577.06px;font-size:13.1px;line-height:16px;color:#c4c4c4;left:154.00px;">2023-04-30 22:01...</div>
<div class="r" style="left:153px;top:594px;width:120px;height:20px;background:#232323;"></div>
<div class="t" style="top:595.63px;font-size:12.6px;line-height:16px;color:#8c8c8c;left:155.00px;font-style:italic;">N/A</div>
<div class="t" style="top:595.63px;font-size:12.6px;line-height:16px;color:#c2c2c2;left:151px;width:120px;text-align:right;">63.85 GB</div>
<svg class="r" style="left:47px;top:624px" width="96" height="54" viewBox="0 0 96 54" preserveAspectRatio="none"><linearGradient id="ta11" x1="0" y1="0" x2="0.15" y2="1">
<stop offset="0" stop-color="#77767c"/><stop offset="0.55" stop-color="#65666f"/><stop offset="1" stop-color="#4c5366"/></linearGradient>
<linearGradient id="tb11" x1="0" y1="0" x2="0.1" y2="1">
<stop offset="0" stop-color="#737279"/><stop offset="0.6" stop-color="#66676f"/><stop offset="1" stop-color="#545866"/></linearGradient>
<radialGradient id="tg11" cx="0.45" cy="0.3" r="0.7">
<stop offset="0" stop-color="#f5e3a0"/><stop offset="0.45" stop-color="#d0aa4e"/><stop offset="1" stop-color="#8c6c26"/></radialGradient>
<rect width="96" height="54" fill="#dcd8d0"/>
<path d="M14 54 C16 48 24 45 32 46 C38 47 42 51 44 54 Z" fill="#938c84" opacity="0.8"/>
<path d="M0 44 C6 42 12 42 16 44 L14 48 L0 49 Z" fill="#c3bdb4" opacity="0.6"/>
<path d="M70 54 C74 50 84 49 96 50 L96 54 Z" fill="#bdb7ae" opacity="0.6"/>
<rect width="96" height="34" fill="url(#tb11)"/>
<path d="M56 34 L96 34 L96 38.5 L86 37.5 L70 36 Z" fill="#4c5262" opacity="0.9"/>
<rect x="39" y="14" width="18" height="20" fill="#676c7b"/>
<rect x="41.6" y="16.6" width="12.8" height="17.4" fill="#45372d"/>
<rect x="42.6" y="17.1" width="7.040000000000001" height="4" fill="#8a6f55"/>
<ellipse cx="47.0" cy="43.4" rx="7.5" ry="1.9" fill="#2c313b"/>
<circle cx="47.8" cy="34.6" r="7" fill="url(#tg11)"/>
<path d="M44.5 33.6 l2 -1.5 l1.5 2 l1.5 -1.5 l1 3" stroke="#3a2a10" stroke-width="0.9" fill="none"/></svg>
<svg class="r" style="left:128px;top:664.5px" width="14" height="13" viewBox="0 0 14 13"><g fill="none" stroke="#f2f2f2" stroke-width="1.1" opacity="0.95"><rect x="0.8" y="0.8" width="12.4" height="8.2" rx="1.2"/><path d="M7 9 V11.6 M3.6 11.8 H10.4"/></g></svg>
<div class="t" style="top:624.28px;font-size:13.05px;line-height:16px;color:#d0d0d0;left:154.00px;-webkit-text-stroke:0.5px #d0d0d0;">3DHD-20-3-2</div>
<div class="t" style="top:639.06px;font-size:13.1px;line-height:16px;color:#c4c4c4;left:154.00px;">2023-04-30 22:01...</div>
<div class="r" style="left:153px;top:656px;width:120px;height:20px;background:#232323;"></div>
<div class="t" style="top:657.63px;font-size:12.6px;line-height:16px;color:#8c8c8c;left:155.00px;font-style:italic;">N/A</div>
<div class="t" style="top:657.63px;font-size:12.6px;line-height:16px;color:#c2c2c2;left:151px;width:120px;text-align:right;">63.85 GB</div>
</div>
<div class="r" style="left:285px;top:297px;width:13px;height:682px;background:#333333;"></div>
<div class="r" style="left:285px;top:297px;width:1px;height:682px;background:#2e2e2e;"></div>
<div class="tri" style="left:288px;top:302.5px;border-width:0 4px 4.5px 4px;border-color:transparent transparent #c8c8c8 transparent"></div>
<div class="tri" style="left:288px;top:969px;border-width:4.5px 4px 0 4px;border-color:#c8c8c8 transparent transparent transparent"></div>
<div class="r" style="left:287px;top:563px;width:10px;height:399px;border-radius:5px;background:#5f5f5f"></div>
<div class="r" style="left:302px;top:71px;width:1px;height:912px;background:#5a5a5a;"></div>
<div class="r" style="left:303px;top:71px;width:1px;height:912px;background:#2c2c2c;"></div>
<div class="r" style="left:304px;top:71px;width:1242px;height:36px;background:#383838;"></div>
<div class="r" style="left:304px;top:107px;width:1242px;height:876px;background:#323232;"></div>
<div class="r" style="left:1546px;top:71px;width:1px;height:912px;background:#5a5a5a;"></div>
<div class="r" style="left:1547px;top:71px;width:1px;height:912px;background:#333333;"></div>
<div class="t" style="top:82.54px;font-size:12.86px;line-height:16px;color:#d6d6d6;left:342.00px;-webkit-text-stroke:0.5px #d6d6d6;">Summary</div>
<div class="t" style="top:82.63px;font-size:12.6px;line-height:16px;color:#c4c4c4;left:438.00px;">Unity Objects</div>
<div class="t" style="top:82.63px;font-size:12.6px;line-height:16px;color:#c4c4c4;left:555.00px;">All Of Memory</div>
<div class="r" style="left:326px;top:105px;width:88px;height:2px;background:#1b8bd7;"></div>
<div class="help" style="left:1525px;top:84px">?</div>
<div class="r" style="left:312px;top:117px;width:1224px;height:146px;background:#2e2e2e;"></div>
<div class="r" style="left:312px;top:273px;width:1224px;height:195px;background:#2e2e2e;"></div>
<div class="r" style="left:312px;top:478px;width:1224px;height:163px;background:#2e2e2e;"></div>
<div class="r" style="left:312px;top:651px;width:1224px;height:211px;background:#2e2e2e;"></div>
<div class="t" style="top:126.12px;font-size:21.3px;line-height:27px;color:#d6d6d6;left:343.00px;-webkit-text-stroke:0.8px #d6d6d6;">Memory Usage On Device</div>
<div class="t" style="top:160.06px;font-size:12.8px;line-height:16px;color:#bdbdbd;left:343.00px;">Displays how much memory you have allocated to the system, and how much of that memory is currently Resident on device. Allocated Memory can be higher than the maximum available on device</div>
<div class="t" style="top:174.55px;font-size:12.85px;line-height:16px;color:#bdbdbd;left:343.00px;">without causing issues.</div>
<div class="r" style="left:343px;top:198px;width:1160px;height:20px;border:1px solid #6a6a6a;background:#747474"></div>
<div class="r" style="left:344px;top:199px;width:401px;height:18px;border:1px solid #e6e6e6;background:#dadada"></div>
<div class="t" style="top:220.63px;font-size:12.6px;line-height:16px;color:#c4c4c4;right:44.00px;text-align:right;">Total Allocated: 2.76 GB</div>
<div class="r" style="left:342px;top:233px;width:313px;height:1px;background:#646464;"></div>
<div class="r" style="left:342px;top:251px;width:313px;height:1px;background:#646464;"></div>
<div class="r" style="left:346px;top:239px;width:12px;height:10px;background:#d9d9d9;"></div>
<div class="t" style="top:235.63px;font-size:12.6px;line-height:16px;color:#c4c4c4;left:363.50px;">Total Resident On Device</div>
<div class="t" style="top:235.63px;font-size:12.6px;line-height:16px;color:#c4c4c4;right:896.00px;text-align:right;">0.96 GB</div>
<div class="t" style="top:281.34px;font-size:22.1px;line-height:28px;color:#d6d6d6;left:343.00px;-webkit-text-stroke:0.8px #d6d6d6;">Allocated Memory Distribution</div>
<div class="btn" style="left:1440px;top:285px;width:62px;height:21px;line-height:21px">Inspect</div>
<div class="t" style="top:316.05px;font-size:12.85px;line-height:16px;color:#bdbdbd;left:343.00px;">Displays how your allocated memory is distributed across memory areas. Hover with your cursor on the categories, to see how much of the memory allocated is currently resident on device.</div>
<div class="r" style="left:343px;top:339px;width:169px;height:20px;border:1px solid #55555b;background:#8fc556"></div>
<div class="r" style="left:516px;top:339px;width:87px;height:20px;border:1px solid #55555b;background:#f1d15b"></div>
<div class="r" style="left:607px;top:339px;width:17px;height:20px;border:1px solid #55555b;background:#7db7e0"></div>
<div class="r" style="left:627px;top:339px;width:442px;height:20px;border:1px solid #5a5a56;background:repeating-linear-gradient(135deg, #5a5a56 0 2.7px, #a878e0 2.7px 11.3px)"></div>
<div class="r" style="left:1072px;top:339px;width:431px;height:20px;border:1px solid #5a5a5a;background:repeating-linear-gradient(135deg, #5a5a5a 0 2.7px, #2e2e2e 2.7px 11.3px)"></div>
<div class="t" style="top:362.13px;font-size:12.6px;line-height:16px;color:#c4c4c4;right:44.00px;text-align:right;">Total Allocated: 2.76 GB</div>
<div class="r" style="left:342px;top:374px;width:321px;height:1px;background:#646464;"></div>
<div class="r" style="left:342px;top:391px;width:321px;height:1px;background:#646464;"></div>
<div class="r" style="left:342px;top:407px;width:321px;height:1px;background:#646464;"></div>
<div class="r" style="left:342px;top:423px;width:321px;height:1px;background:#646464;"></div>
<div class="r" style="left:342px;top:439px;width:321px;height:1px;background:#646464;"></div>
<div class="r" style="left:342px;top:456px;width:321px;height:1px;background:#646464;"></div>
<div class="r" style="left:346px;top:379px;width:12px;height:10px;background:#8fc556;"></div>
<div class="t" style="top:375.63px;font-size:12.6px;line-height:16px;color:#c4c4c4;left:363.50px;">Native</div>
<div class="t" style="top:375.63px;font-size:12.6px;line-height:16px;color:#c4c4c4;right:888.00px;text-align:right;">419.4 MB</div>
<div class="r" style="left:346px;top:395px;width:12px;height:10px;background:#f1d15b;"></div>
<div class="t" style="top:391.63px;font-size:12.6px;line-height:16px;color:#c4c4c4;left:363.50px;">Executables &amp; Mapped</div>
<div class="t" style="top:391.63px;font-size:12.6px;line-height:16px;color:#c4c4c4;right:888.00px;text-align:right;">217.7 MB</div>
<div class="r" style="left:346px;top:411px;width:12px;height:10px;background:#7db7e0;"></div>
<div class="t" style="top:407.63px;font-size:12.6px;line-height:16px;color:#c4c4c4;left:363.50px;">Managed</div>
<div class="t" style="top:407.63px;font-size:12.6px;line-height:16px;color:#c4c4c4;right:888.00px;text-align:right;">45.0 MB</div>
<div class="r" style="left:346px;top:427px;width:12px;height:10px;background:#a878e0;"></div>
<div class="t" style="top:423.63px;font-size:12.6px;line-height:16px;color:#c4c4c4;left:363.50px;">Graphics (Estimated)</div>
<div class="t" style="top:423.63px;font-size:12.6px;line-height:16px;color:#c4c4c4;right:888.00px;text-align:right;">1.06 GB</div>
<div class="r" style="left:346px;top:444px;width:12px;height:10px;background:#303030;"></div>
<div class="t" style="top:440.63px;font-size:12.6px;line-height:16px;color:#c4c4c4;left:363.50px;">Untracked*</div>
<div class="t" style="top:440.63px;font-size:12.6px;line-height:16px;color:#c4c4c4;right:888.00px;text-align:right;">1.04 GB</div>
<div class="t" style="top:487.00px;font-size:21.65px;line-height:27px;color:#d6d6d6;left:343.00px;-webkit-text-stroke:0.8px #d6d6d6;">Managed Heap Utilization</div>
<div class="btn" style="left:1440px;top:490px;width:62px;height:21px;line-height:21px">Inspect</div>
<div class="t" style="top:521.05px;font-size:12.85px;line-height:16px;color:#bdbdbd;left:343.00px;">Displays how efficiently Unity is using the memory you have allocated. High amounts of reserved memory and low usage might be signs of low efficiency or fragmentation.</div>
<div class="r" style="left:343px;top:544px;width:927px;height:20px;border:1px solid #55555b;background:#009191"></div>
<div class="r" style="left:1273.5px;top:544px;width:155.5px;height:20px;border:1px solid #55555b;background:#67a7ae"></div>
<div class="r" style="left:1433px;top:544px;width:70px;height:20px;border:1px solid #55555b;background:#52ccf2"></div>
<div class="t" style="top:566.63px;font-size:12.6px;line-height:16px;color:#c4c4c4;right:44.00px;text-align:right;">Total: 45.0 MB</div>
<div class="r" style="left:342px;top:579px;width:312px;height:1px;background:#646464;"></div>
<div class="r" style="left:342px;top:596px;width:312px;height:1px;background:#646464;"></div>
<div class="r" style="left:342px;top:612px;width:312px;height:1px;background:#646464;"></div>
<div class="r" style="left:342px;top:629px;width:312px;height:1px;background:#646464;"></div>
<div class="r" style="left:346px;top:584px;width:12px;height:10px;background:#009191;"></div>
<div class="t" style="top:580.63px;font-size:12.6px;line-height:16px;color:#c4c4c4;left:363.50px;">Virtual Machine</div>
<div class="t" style="top:580.63px;font-size:12.6px;line-height:16px;color:#c4c4c4;right:897.00px;text-align:right;">36.1 MB</div>
<div class="r" style="left:346px;top:600px;width:12px;height:10px;background:#67a7ae;"></div>
<div class="t" style="top:596.63px;font-size:12.6px;line-height:16px;color:#c4c4c4;left:363.50px;">Objects</div>
<div class="t" style="top:596.63px;font-size:12.6px;line-height:16px;color:#c4c4c4;right:897.00px;text-align:right;">6.1 MB</div>
<div class="r" style="left:346px;top:617px;width:12px;height:10px;background:#52ccf2;"></div>
<div class="t" style="top:613.63px;font-size:12.6px;line-height:16px;color:#c4c4c4;left:363.50px;">Empty Heap Space</div>
<div class="t" style="top:613.63px;font-size:12.6px;line-height:16px;color:#c4c4c4;right:897.00px;text-align:right;">2.8 MB</div>
<div class="t" style="top:659.93px;font-size:21.85px;line-height:27px;color:#d6d6d6;left:343.00px;-webkit-text-stroke:0.8px #d6d6d6;">Top Unity Objects Categories</div>
<div class="btn" style="left:1440px;top:663px;width:62px;height:21px;line-height:21px">Inspect</div>
<div class="t" style="top:693.55px;font-size:12.85px;line-height:16px;color:#bdbdbd;left:343.00px;">Displays the main Unity Objects Assets Categories that are currently impacting memory.</div>
<div class="r" style="left:343px;top:717px;width:790.5px;height:20px;border:1px solid #55555b;background:#634a88"></div>
<div class="r" style="left:1137px;top:717px;width:195.5px;height:20px;border:1px solid #55555b;background:#8169ca"></div>
<div class="r" style="left:1336px;top:717px;width:65.5px;height:20px;border:1px solid #55555b;background:#b0a9c6"></div>
<div class="r" style="left:1405px;top:717px;width:39.299999999999955px;height:20px;border:1px solid #55555b;background:#ad6bb3"></div>
<div class="r" style="left:1448px;top:717px;width:14.799999999999955px;height:20px;border:1px solid #55555b;background:#a84f42"></div>
<div class="r" style="left:1466px;top:717px;width:37px;height:20px;border:1px solid #5a5a5a;background:repeating-linear-gradient(135deg, #5a5a5a 0 2.7px, #2e2e2e 2.7px 11.3px)"></div>
<div class="t" style="top:739.63px;font-size:12.6px;line-height:16px;color:#c4c4c4;right:44.00px;text-align:right;">Total: 1.14 GB</div>
<div class="r" style="left:342px;top:752px;width:320px;height:1px;background:#646464;"></div>
<div class="r" style="left:342px;top:769px;width:320px;height:1px;background:#646464;"></div>
<div class="r" style="left:342px;top:785px;width:320px;height:1px;background:#646464;"></div>
<div class="r" style="left:342px;top:801px;width:320px;height:1px;background:#646464;"></div>
<div class="r" style="left:342px;top:817px;width:320px;height:1px;background:#646464;"></div>
<div class="r" style="left:342px;top:833px;width:320px;height:1px;background:#646464;"></div>
<div class="r" style="left:342px;top:850px;width:320px;height:1px;background:#646464;"></div>
<div class="r" style="left:346px;top:757px;width:12px;height:10px;background:#634a88;"></div>
<div class="t" style="top:753.63px;font-size:12.6px;line-height:16px;color:#c4c4c4;left:363.50px;">RenderTexture</div>
<div class="t" style="top:753.63px;font-size:12.6px;line-height:16px;color:#c4c4c4;right:889.00px;text-align:right;">0.78 GB</div>
<div class="r" style="left:346px;top:773px;width:12px;height:10px;background:#8169ca;"></div>
<div class="t" style="top:769.63px;font-size:12.6px;line-height:16px;color:#c4c4c4;left:363.50px;">Texture2D</div>
<div class="t" style="top:769.63px;font-size:12.6px;line-height:16px;color:#c4c4c4;right:889.00px;text-align:right;">199.7 MB</div>
<div class="r" style="left:346px;top:789px;width:12px;height:10px;background:#b0a9c6;"></div>
<div class="t" style="top:785.63px;font-size:12.6px;line-height:16px;color:#c4c4c4;left:363.50px;">Shader</div>
<div class="t" style="top:785.63px;font-size:12.6px;line-height:16px;color:#c4c4c4;right:889.00px;text-align:right;">68.6 MB</div>
<div class="r" style="left:346px;top:805px;width:12px;height:10px;background:#ad6bb3;"></div>
<div class="t" style="top:801.63px;font-size:12.6px;line-height:16px;color:#c4c4c4;left:363.50px;">ComputeShader</div>
<div class="t" style="top:801.63px;font-size:12.6px;line-height:16px;color:#c4c4c4;right:889.00px;text-align:right;">41.0 MB</div>
<div class="r" style="left:346px;top:821px;width:12px;height:10px;background:#a84f42;"></div>
<div class="t" style="top:817.63px;font-size:12.6px;line-height:16px;color:#c4c4c4;left:363.50px;">Mesh</div>
<div class="t" style="top:817.63px;font-size:12.6px;line-height:16px;color:#c4c4c4;right:889.00px;text-align:right;">16.1 MB</div>
<div class="r" style="left:346px;top:838px;width:12px;height:10px;background:#303030;"></div>
<div class="t" style="top:834.63px;font-size:12.6px;line-height:16px;color:#c4c4c4;left:363.50px;">Others</div>
<div class="t" style="top:834.63px;font-size:12.6px;line-height:16px;color:#c4c4c4;right:889.00px;text-align:right;">39.9 MB</div>
<svg class="r" style="left:0;top:0" width="8" height="8" viewBox="0 0 8 8"><path d="M0 0 H6 Q2 0.6 1.6 5 V6 H0 Z" fill="#27303d"/><path d="M1.6 7 V5 Q2 0.8 6 0.4" fill="none" stroke="#4a4d52" stroke-width="1"/></svg>
<svg class="r" style="left:0;top:975px" width="10" height="8" viewBox="0 0 10 8"><path d="M0 0 H2 V1 Q2 7 8 8 H0 Z" fill="#1f2a36"/><path d="M1.6 0 V1 Q1.6 7.2 8 8" fill="none" stroke="#4a4d52" stroke-width="1"/></svg>
</body></html>
